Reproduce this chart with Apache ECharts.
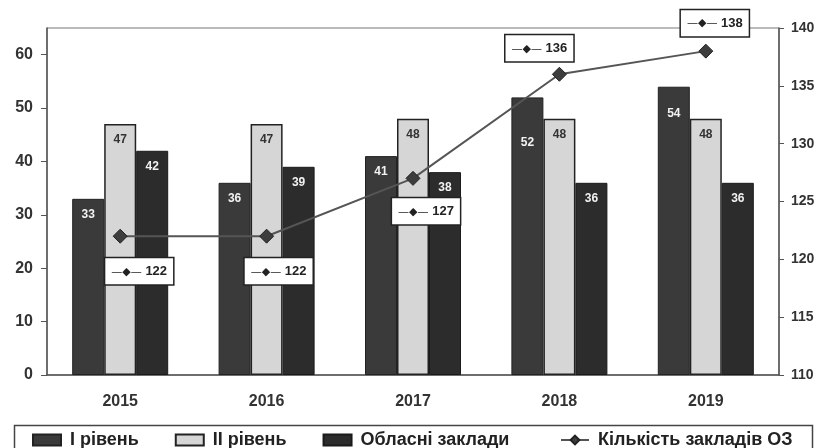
<!DOCTYPE html>
<html lang="uk">
<head>
<meta charset="utf-8">
<script src="https://cdn.jsdelivr.net/npm/echarts@6/dist/echarts.min.js"></script>
<style>
  html, body { margin: 0; padding: 0; background: #fff; }
  #main { width: 819px; height: 448px; }
</style>
</head>
<body>
<div id="main"></div>
<script>
var years = ['2015', '2016', '2017', '2018', '2019'];
var level1 = [33, 36, 41, 52, 54];
var level2 = [47, 47, 48, 48, 48];
var regional = [42, 39, 38, 36, 36];
var totalOZ = [122, 122, 127, 136, 138];
var leftTicks = [0, 65, 10];
var rightTicks = [110, 140, 5];

// where the line's value boxes sit relative to each point
var boxOffsets = [[19, 35], [12, 35], [13, 33], [-20, -26], [9, -28]];
// extra push-down for a couple of bar labels
var l1Shift = [0, 0, 0, 29, 11];

var font = 'Liberation Sans, Arial, sans-serif';
var legendText = { fontFamily: font, fontWeight: 'bold', fontSize: 18, color: '#222', padding: [0, 0, 0, 4] };
var myChart = echarts.init(document.getElementById('main'));

function barLabel(color) {
    return {
        show: true,
        position: 'insideTop',
        distance: 10,
        color: color,
        fontFamily: font,
        fontWeight: 'bold',
        fontSize: 12
    };
}

myChart.setOption({
    backgroundColor: '#fff',
    animation: false,
    grid: {
        left: 47, right: 40, top: 28, bottom: 73,
        show: true, borderColor: '#777', borderWidth: 1
    },
    legend: [{
        left: 27, top: 426,
        itemWidth: 28, itemHeight: 11, itemGap: 36,
        textStyle: legendText,
        data: [
            { name: 'I рівень', icon: 'rect' },
            { name: 'II рівень', icon: 'rect' },
            { name: 'Обласні заклади', icon: 'rect' }
        ]
    }, {
        left: 555, top: 426,
        itemWidth: 28, itemHeight: 11,
        textStyle: legendText,
        data: ['Кількість закладів ОЗ']
    }],
    graphic: [{
        type: 'rect', left: 12, top: 423, silent: true,
        shape: { width: 798, height: 30 },
        style: { fill: 'none', stroke: '#444', lineWidth: 1.5 }
    }],
    xAxis: {
        type: 'category',
        data: years,
        axisLine: { lineStyle: { color: '#555', width: 1.5 } },
        axisTick: { length: 5, lineStyle: { color: '#555' } },
        axisLabel: { margin: 19, fontFamily: font, fontWeight: 'bold', fontSize: 16, color: '#333' }
    },
    yAxis: [{
        type: 'value',
        min: leftTicks[0], max: leftTicks[1], interval: leftTicks[2],
        splitLine: { show: false },
        axisLine: { show: true, lineStyle: { color: '#555', width: 1.5 } },
        axisTick: { show: true, length: 6, lineStyle: { color: '#555' } },
        axisLabel: { showMaxLabel: false, margin: 14, fontFamily: font, fontWeight: 'bold', fontSize: 16, color: '#333' }
    }, {
        type: 'value',
        position: 'right',
        min: rightTicks[0], max: rightTicks[1], interval: rightTicks[2],
        splitLine: { show: false },
        axisLine: { show: true, lineStyle: { color: '#555', width: 1.5 } },
        axisTick: { show: true, length: 5, lineStyle: { color: '#555' } },
        axisLabel: { margin: 12, fontFamily: font, fontWeight: 'bold', fontSize: 14, color: '#333' }
    }],
    series: [{
        name: 'I рівень',
        type: 'bar',
        barWidth: 32,
        barGap: '0%',
        z: 2,
        itemStyle: { color: '#3a3a3a', borderColor: '#222', borderWidth: 1 },
        label: barLabel('#f2f2f2'),
        data: level1.map(function (v, i) {
            return { value: v, label: { offset: [0, l1Shift[i]] } };
        })
    }, {
        name: 'II рівень',
        type: 'bar',
        barWidth: 32,
        barGap: '0%',
        z: 2,
        itemStyle: { color: '#d6d6d6', borderColor: '#222', borderWidth: 1.5 },
        label: barLabel('#333'),
        data: level2
    }, {
        name: 'Обласні заклади',
        type: 'bar',
        barWidth: 32,
        barGap: '0%',
        z: 2,
        itemStyle: { color: '#2c2c2c', borderColor: '#1a1a1a', borderWidth: 1 },
        label: barLabel('#f2f2f2'),
        data: regional
    }, {
        name: 'Кількість закладів ОЗ',
        type: 'line',
        yAxisIndex: 1,
        z: 10,
        symbol: 'diamond',
        symbolSize: 14,
        lineStyle: { color: '#555', width: 2 },
        itemStyle: { color: '#3d3d3d', borderColor: '#222', borderWidth: 1 },
        label: {
            show: true,
            position: 'inside',
            backgroundColor: '#fff',
            borderColor: '#222',
            borderWidth: 1.5,
            padding: [7, 6, 6, 6],
            formatter: function (p) { return '{k|—◆—}{v| ' + p.value + '}'; },
            rich: {
                k: { fontFamily: 'DejaVu Sans', fontSize: 11, color: '#222' },
                v: { fontFamily: font, fontWeight: 'bold', fontSize: 13, color: '#222' }
            }
        },
        data: totalOZ.map(function (v, i) {
            return { value: v, label: { offset: boxOffsets[i] } };
        })
    }]
});
</script>
</body>
</html>
